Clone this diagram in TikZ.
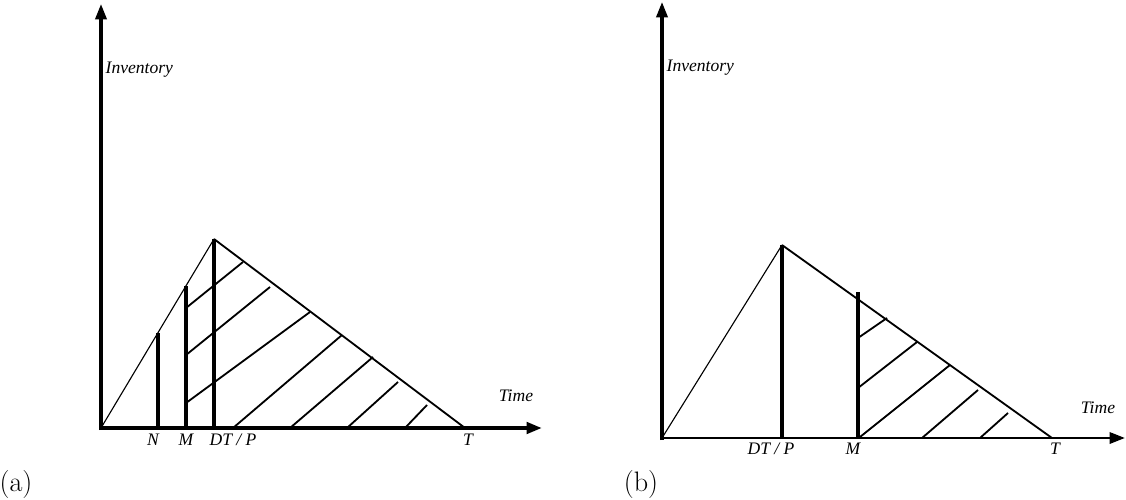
\documentclass[tikz,border=0pt]{standalone}
\usepackage{fontspec}
\newfontfamily\axisfont{Liberation Serif}
\usetikzlibrary{arrows.meta}
\tikzset{
  axis arrow/.style={-{Triangle[length=11pt,width=8pt]}, line width=2.2pt},
  stock bar/.style={line width=2.3pt},
  stock line/.style={line width=0.8pt},
  hatch line/.style={line width=1.3pt},
}

\begin{document}
\begin{tikzpicture}[x=0.025cm, y=-0.025cm,
    axis label/.style={font=\axisfont\itshape\fontsize{12.5}{14}\selectfont, inner sep=1pt},
    panel tag/.style={font=\fontsize{20}{24}\selectfont, inner sep=0pt}]
  \useasboundingbox (0,0) rectangle (1126,500);
  % Panel (a)
  \coordinate (oa) at (101,428);
  \coordinate (pa) at (214,239);
  \coordinate (ta) at (465,428);
  \draw[axis arrow] (101,430) -- (101,4);
  \draw[axis arrow, line width=2.9pt] (oa) -- (542,428);
  \draw[stock line] (oa) -- (pa);
  \draw[stock line, line width=1.3pt] (pa) -- (ta);
  \draw[stock bar] (158,428) -- (158,332.6);
  \draw[stock bar] (186,428) -- (186,285.8);
  \draw[stock bar] (214,428) -- (pa);
  \foreach \sx/\sy/\ex/\ey in {186/308/243/262, 186/355/270/287, 186/403/310/312,
      233/428/342/335, 290/428/373/357, 347/428/398/382, 405/428/427/405}
    \draw[hatch line] (\sx,\sy) -- (\ex,\ey);
  \node[axis label, anchor=west] (inva) at (104,70) {Inventory};
  \node[axis label] (timea) at (516,396) {Time};
  \node[axis label] (na) at (153,440) {N};
  \node[axis label] (ma) at (186,440) {M};
  \node[axis label] (dpa) at (233,440) {DT / P};
  \node[axis label] (tla) at (468,440) {T};
  \node[panel tag] (taga) at (16,484) {(a)};
  % Panel (b)
  \coordinate (ob) at (662,438);
  \coordinate (pb) at (782,245);
  \coordinate (tb) at (1052,438);
  \draw[axis arrow] (662,440) -- (662,2);
  \draw[axis arrow, line width=1.9pt] (ob) -- (1125,438);
  \draw[stock line] (ob) -- (pb);
  \draw[stock line, line width=1.3pt] (pb) -- (tb);
  \draw[stock bar] (782,438) -- (pb);
  \draw[stock bar] (858,438) -- (858,292);
  \foreach \sx/\sy/\ex/\ey in {858/338/887/318, 858/388/917/342,
      860/437/950/365, 922/438/978/390, 980/438/1008/413}
    \draw[hatch line] (\sx,\sy) -- (\ex,\ey);
  \node[axis label, anchor=west] (invb) at (665,68) {Inventory};
  \node[axis label] (timeb) at (1098,408) {Time};
  \node[axis label] (dpb) at (771,449) {DT / P};
  \node[axis label] (mb) at (853,449) {M};
  \node[axis label] (tlb) at (1055,449) {T};
  \node[panel tag] (tagb) at (641,484) {(b)};
\end{tikzpicture}
\end{document}
